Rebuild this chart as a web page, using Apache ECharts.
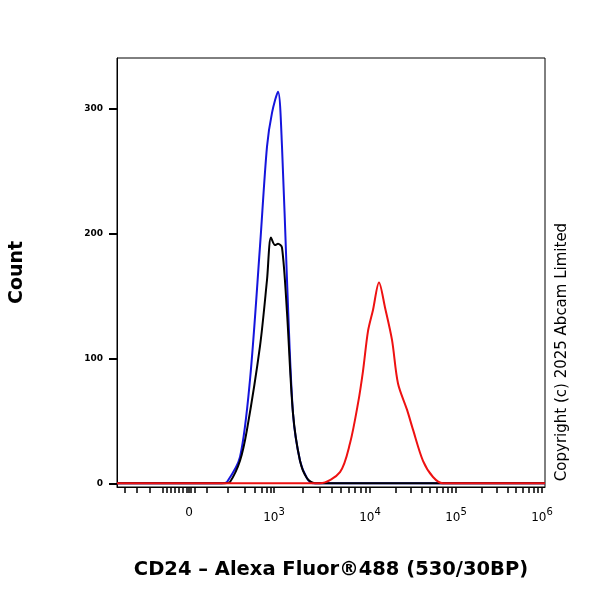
<!DOCTYPE html>
<html>
<head>
<meta charset="utf-8">
<script src="https://cdn.jsdelivr.net/npm/echarts@6/dist/echarts.min.js"></script>
<style>html,body{margin:0;padding:0;background:#fff}#c{width:600px;height:600px}</style>
</head>
<body>
<div id="c"></div>
<script>
// x values are display positions on the biexponential axis (0..428)
const blue = [[0,0],[105,0],[110,1],[123,21],[133,83],[143,190],[150,270],[155,297],[161,314],[165,270],[170,163],[176,56],[183,18],[190,4],[196,0],[428,0]]
const black = [[0,0],[108,0],[113,1],[123,18],[130,43],[143,110],[150,163],[154,197],[158,191],[161,192],[165,189],[170,137],[176,56],[183,18],[190,4],[198,0],[428,0]]
const red = [[0,0],[200,0],[203,0],[223,9],[233,32],[241,64],[246,90],[251,122],[256,139],[262,161],[268,141],[275,115],[281,80],[290,59],[296,43],[306,18],[316,5],[326,0],[428,0]]
const xTickLabels = [[72,'0'],[157,'10{s|3}'],[253,'10{s|4}'],[339,'10{s|5}'],[425,'10{s|6}']]
const yTicks = [0,100,200,300]

const minor = []
;[8,20,33,46,50,54,58,62,66,70,74,78,90,111,128,138,145,150,154].forEach(v => minor.push(v))
;[157,253,339].forEach((b, i) => {
  const w = [96,86,86][i]
  for (let k = 2; k <= 9; k++) minor.push(b + w * Math.log10(k))
})

const font = 'DejaVu Sans'
const chart = echarts.init(document.getElementById('c'))
const lineS = (name, data, color) => ({
  name, type: 'line', data, symbol: 'none', smooth: 0.3,
  lineStyle: { color, width: 2 }
})
chart.setOption({
  animation: false,
  grid: { left: 117, right: 55, top: 58, bottom: 113, outerBoundsMode: 'none', containLabel: false },
  xAxis: {
    type: 'value', min: 0, max: 428,
    axisLine: { onZero: false, lineStyle: { color: '#000', width: 1 } },
    splitLine: { show: false },
    axisTick: { customValues: minor.concat(xTickLabels.map(d => d[0])), inside: false, length: 6, lineStyle: { color: '#000', width: 1.5 } },
    axisLabel: {
      customValues: xTickLabels.map(d => d[0]),
      formatter: v => (xTickLabels.find(d => d[0] === v) || [0, ''])[1],
      margin: 20, color: '#000', fontFamily: font, fontSize: 12,
      rich: { s: { fontSize: 10, fontFamily: font, verticalAlign: 'top', padding: [0, 0, 11, 0], color: '#000' } }
    },
    name: 'CD24 \u2013 Alexa Fluor\u00ae488 (530/30BP)', nameLocation: 'middle', nameGap: 73,
    nameTextStyle: { fontFamily: font, fontWeight: 'bold', fontSize: 19.5, color: '#000' }
  },
  yAxis: {
    type: 'value', min: -3, max: 341,
    axisLine: { show: true, lineStyle: { color: '#000', width: 1 } },
    splitLine: { show: false },
    axisTick: { customValues: yTicks, inside: false, length: 8, lineStyle: { color: '#000', width: 2 } },
    axisLabel: { customValues: yTicks, color: '#000', fontFamily: font, fontSize: 9, fontWeight: 'bold', margin: 14 },
    name: 'Count', nameLocation: 'middle', nameGap: 90,
    nameTextStyle: { fontFamily: font, fontWeight: 'bold', fontSize: 19, color: '#000' }
  },
  graphic: [
    { type: 'rect', shape: { x: 117, y: 58, width: 428, height: 429 }, style: { fill: 'none', stroke: '#000', lineWidth: 1 }, silent: true },
    { type: 'text', x: 562, y: 352, rotation: Math.PI / 2, style: { text: 'Copyright (c) 2025 Abcam Limited', fontFamily: font, fontSize: 15, fill: '#000', align: 'center', verticalAlign: 'middle' } }
  ],
  series: [lineS('Blue', blue, '#1515dd'), lineS('Black', black, '#000'), lineS('Red', red, '#ee1111')]
})
</script>
</body>
</html>
